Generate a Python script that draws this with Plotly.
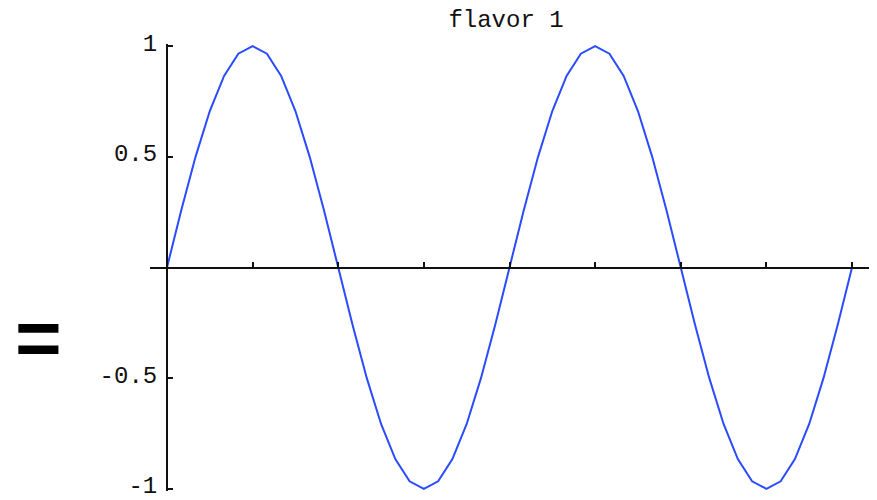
import plotly.graph_objects as go

# Sample positions over two periods (24 samples per period)
x_vals = [k / 24 for k in range(49)]
y_vals = [0.0, 0.259, 0.5, 0.707, 0.866, 0.966, 1.0, 0.966, 0.866, 0.707, 0.5, 0.259,
          0.0, -0.259, -0.5, -0.707, -0.866, -0.966, -1.0, -0.966, -0.866, -0.707, -0.5, -0.259,
          0.0, 0.259, 0.5, 0.707, 0.866, 0.966, 1.0, 0.966, 0.866, 0.707, 0.5, 0.259,
          0.0, -0.259, -0.5, -0.707, -0.866, -0.966, -1.0, -0.966, -0.866, -0.707, -0.5, -0.259,
          0.0]

x_ticks = [0.25, 0.5, 0.75, 1.0, 1.25, 1.5, 1.75, 2.0]
y_ticks = [-1, -0.5, 0.5, 1]
y_tick_text = ["-1", "-0.5", "0.5", "1"]

X_RANGE = [-0.0496, 2.0496]
Y_RANGE = [-1.01, 1.01]
MONO = "Liberation Mono, Courier New, monospace"

MARGIN_L, MARGIN_R, MARGIN_T, MARGIN_B = 150, 8, 44, 9
W, H = 877, 500

fig = go.Figure()
fig.add_trace(go.Scatter(
    x=x_vals, y=y_vals, mode="lines",
    line=dict(color="#2a4bff", width=2),
    hoverinfo="skip", showlegend=False,
))

y_axis_pos = (0 - X_RANGE[0]) / (X_RANGE[1] - X_RANGE[0])
x_axis_pos = (0 - Y_RANGE[0]) / (Y_RANGE[1] - Y_RANGE[0])

fig.update_layout(
    width=W, height=H,
    margin=dict(l=MARGIN_L, r=MARGIN_R, t=MARGIN_T, b=MARGIN_B, autoexpand=False),
    paper_bgcolor="white", plot_bgcolor="white",
    title=dict(text="flavor 1", x=506 / W, y=1 - 19 / H,
               xanchor="center", yanchor="middle",
               font=dict(family=MONO, size=24, color="#111")),
    xaxis=dict(range=X_RANGE, anchor="free", position=x_axis_pos, side="bottom",
               showgrid=False, zeroline=False, showline=True, linecolor="#111", linewidth=2,
               ticks="inside", ticklen=5, tickwidth=2, tickcolor="#111",
               tickvals=x_ticks, showticklabels=False, automargin=False),
    yaxis=dict(range=Y_RANGE, anchor="free", position=y_axis_pos, side="left",
               showgrid=False, zeroline=False, showline=True, linecolor="#111", linewidth=2,
               ticks="inside", ticklen=5, tickwidth=2, tickcolor="#111",
               tickvals=y_ticks, ticktext=y_tick_text, ticklabelstandoff=4,
               ticklabelshift=-4, ticklabeloverflow="allow", automargin=False,
               tickfont=dict(family=MONO, size=24, color="#111")),
)

# Large equals sign to the left of the plot, positioned in pixels
fig.add_annotation(
    text="<b>=</b>",
    x=(38 - MARGIN_L) / (W - MARGIN_L - MARGIN_R),
    y=(H - 337 - MARGIN_B) / (H - MARGIN_T - MARGIN_B),
    xref="paper", yref="paper", showarrow=False,
    font=dict(family="Liberation Sans, Arial", size=80, color="black"),
    xanchor="center", yanchor="middle",
)

fig.write_html("out.html")
